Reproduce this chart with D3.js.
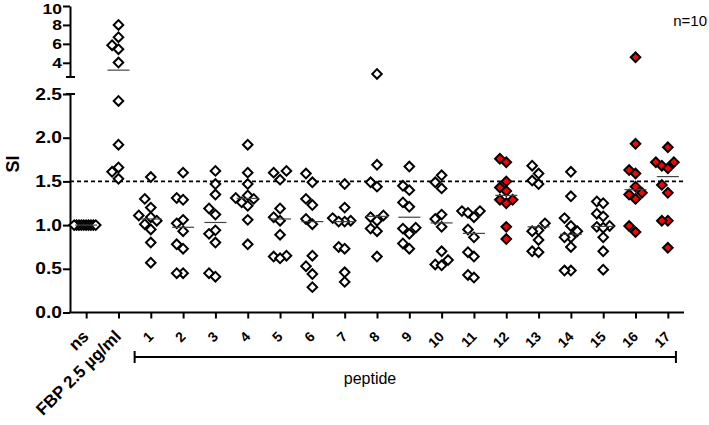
<!DOCTYPE html>
<html lang="en">
<head>
<meta charset="UTF-8">
<title>SI per peptide</title>
<script src="https://d3js.org/d3.v7.min.js"></script>
<style>
  body { margin: 0; background: #fff; }
  svg text { font-family: Arial, "Liberation Sans", sans-serif; fill: #000; }
  .axis path, .axis line { stroke: #000; stroke-width: 2; }
</style>
</head>
<body>
<svg id="chart" width="709" height="425"></svg>
<script>
const categories = ["ns", "FBP 2.5 µg/ml", "1", "2", "3", "4", "5", "6", "7", "8", "9",
                    "10", "11", "12", "13", "14", "15", "16", "17"];
const nsSI = [1, 1, 1, 1, 1, 1, 1, 1, 1, 1];
const fbpSI = [8.0, 6.7, 5.86, 5.44, 4.03, 2.42, 1.92, 1.66, 1.61, 1.53];
const peptideSI = [
  [1.55, 1.30, 1.20, 1.11, 1.09, 1.05, 1.01, 0.95, 0.80, 0.57],
  [1.60, 1.31, 1.29, 1.06, 1.02, 0.93, 0.78, 0.73, 0.45, 0.45],
  [1.62, 1.47, 1.35, 1.19, 1.12, 0.94, 0.90, 0.80, 0.45, 0.41],
  [1.92, 1.60, 1.47, 1.34, 1.31, 1.30, 1.26, 1.22, 1.06, 0.78],
  [1.62, 1.60, 1.52, 1.19, 1.09, 1.05, 0.89, 0.65, 0.64, 0.62],
  [1.59, 1.49, 1.30, 1.23, 1.07, 1.01, 0.65, 0.53, 0.44, 0.29],
  [1.47, 1.20, 1.08, 1.05, 1.04, 1.04, 0.75, 0.73, 0.46, 0.35],
  [2.82, 1.69, 1.49, 1.44, 1.11, 1.09, 1.05, 0.96, 0.93, 0.64],
  [1.67, 1.45, 1.40, 1.26, 1.21, 0.97, 0.96, 0.90, 0.79, 0.73],
  [1.57, 1.49, 1.42, 1.12, 1.07, 0.98, 0.70, 0.60, 0.55, 0.54],
  [1.16, 1.16, 1.14, 1.09, 0.95, 0.86, 0.69, 0.64, 0.43, 0.40],
  [1.76, 1.72, 1.50, 1.43, 1.39, 1.29, 1.29, 1.25, 0.98, 0.84],
  [1.68, 1.59, 1.51, 1.47, 1.02, 0.94, 0.93, 0.83, 0.70, 0.69],
  [1.61, 1.33, 1.08, 0.99, 0.93, 0.86, 0.86, 0.75, 0.48, 0.48],
  [1.27, 1.25, 1.13, 1.10, 0.99, 0.98, 0.97, 0.86, 0.70, 0.49],
  [4.58, 1.93, 1.63, 1.59, 1.44, 1.37, 1.35, 1.30, 0.99, 0.92],
  [1.89, 1.72, 1.72, 1.68, 1.65, 1.46, 1.37, 1.05, 1.05, 0.74]
];
const positivePeptides = ["12", "16", "17"];
const lowerTicks = [0, 0.5, 1.0, 1.5, 2.0, 2.5];
const upperTicks = [4, 6, 8, 10];
const threshold = 1.5;
const nLabel = "n=10";

const svg = d3.select("#chart");
const axisX = 70, axisRight = 684;

const x = d3.scalePoint().domain(categories).range([axisX, axisRight]).padding(0.5);
const yLow = d3.scaleLinear().domain([0, 2.5]).range([312.5, 94]);
const yHigh = d3.scaleLinear().domain([2.5, 10]).range([77, 6]);
const yPos = v => v <= 2.5 ? yLow(v) : yHigh(v);

const groups = categories.map((c, i) => ({
  cat: c,
  values: i === 0 ? nsSI : i === 1 ? fbpSI : peptideSI[i - 2],
  red: positivePeptides.includes(c)
}));

// spread points with similar values sideways, like a column scatter
function dodge(values) {
  const step = 6.4, minDy = 9, maxHalf = 12;
  const order = values.map((v, i) => i).sort((a, b) => values[a] - values[b]);
  const placed = [], off = new Array(values.length);
  for (const i of order) {
    const yy = yPos(values[i]);
    for (let k = 0; ; k++) {
      const cand = k === 0 ? 0 : (k % 2 ? -1 : 1) * Math.ceil(k / 2) * step;
      if (!placed.some(p => Math.abs(p.y - yy) < minDy && Math.abs(p.dx - cand) < step * 0.9)) {
        off[i] = cand;
        placed.push({ y: yy, dx: cand });
        break;
      }
    }
  }
  const m = d3.max(off, Math.abs);
  if (m > maxHalf) off.forEach((o, i) => off[i] = o * maxHalf / m);
  return off;
}

// threshold line
svg.append("line")
  .attr("x1", axisX).attr("x2", axisRight)
  .attr("y1", yLow(threshold)).attr("y2", yLow(threshold))
  .attr("stroke", "#000").attr("stroke-width", 1.6)
  .attr("stroke-dasharray", "4,3");

// axes
const yAxisLow = svg.append("g").attr("class", "axis")
  .attr("transform", `translate(${axisX},0)`)
  .call(d3.axisLeft(yLow).tickValues(lowerTicks).tickFormat(d3.format(".1f")).tickSize(7).tickSizeOuter(0));
const yAxisHigh = svg.append("g").attr("class", "axis")
  .attr("transform", `translate(${axisX},0)`)
  .call(d3.axisLeft(yHigh).tickValues(upperTicks).tickFormat(d3.format("d")).tickSize(7).tickSizeOuter(0));

yAxisLow.selectAll(".tick text")
  .attr("x", -8 / 1.2)
  .attr("transform", "scale(1.2,1)")
  .style("font-size", "16px").style("font-weight", "bold");
yAxisHigh.selectAll(".tick text")
  .attr("x", -8 / 1.25)
  .attr("transform", "scale(1.25,1)")
  .style("font-size", "14px").style("font-weight", "bold");
yAxisHigh.selectAll(".tick text").filter(d => d === 10).attr("dy", "0.5em");

// break caps
[yHigh.range()[0], yLow.range()[1]].forEach(yy => {
  svg.append("line").attr("x1", axisX - 4).attr("x2", axisX + 5)
    .attr("y1", yy).attr("y2", yy).attr("stroke", "#000").attr("stroke-width", 2);
});

const xAxis = svg.append("g").attr("class", "axis")
  .attr("transform", `translate(0,${yLow(0)})`)
  .call(d3.axisBottom(x).tickSize(6).tickSizeOuter(0));
xAxis.select(".domain").attr("d", `M${axisX - 1},0H${axisRight}`);
xAxis.selectAll(".tick text")
  .attr("text-anchor", "end")
  .attr("x", 0).attr("y", 0).attr("dy", 0)
  .attr("transform", "translate(3,25) rotate(-45)")
  .style("font-size", d => d === "ns" || d.startsWith("FBP") ? "17px" : "14px")
  .style("font-weight", "bold");

// points
const sym = d3.symbol(d3.symbolSquare, 46);
groups.forEach(g => {
  const off = dodge(g.values);
  const cx = x(g.cat);
  svg.append("g").selectAll("path")
    .data(g.values)
    .join("path")
    .attr("d", sym)
    .attr("transform", (d, i) => `translate(${cx + off[i]},${yPos(d)}) rotate(45)`)
    .attr("fill", g.red ? "#ff0000" : "#fff")
    .attr("stroke", "#000").attr("stroke-width", 2);

  const med = d3.median(g.values);
  svg.append("line")
    .attr("x1", cx - 11).attr("x2", cx + 11)
    .attr("y1", yPos(med)).attr("y2", yPos(med))
    .attr("stroke", "#444").attr("stroke-width", 1.2);
});

// y title
svg.append("text")
  .attr("transform", `translate(19,${yLow(1.7)}) rotate(-90)`)
  .attr("text-anchor", "middle")
  .style("font-size", "18px").style("font-weight", "bold")
  .text("SI");

// peptide bracket
const bx0 = x("1") - x.step() / 2, bx1 = x("17") + x.step() / 4, by = 357;
svg.append("path")
  .attr("d", `M${bx0},${by - 6}V${by + 6}M${bx0},${by}H${bx1}M${bx1},${by - 6}V${by + 6}`)
  .attr("fill", "none").attr("stroke", "#000").attr("stroke-width", 2);
svg.append("text")
  .attr("x", x("8") - 7).attr("y", 384)
  .attr("text-anchor", "middle")
  .style("font-size", "16px")
  .text("peptide");

svg.append("text")
  .attr("x", 707).attr("y", 26)
  .attr("text-anchor", "end")
  .style("font-size", "15px")
  .text(nLabel);
</script>
</body>
</html>
